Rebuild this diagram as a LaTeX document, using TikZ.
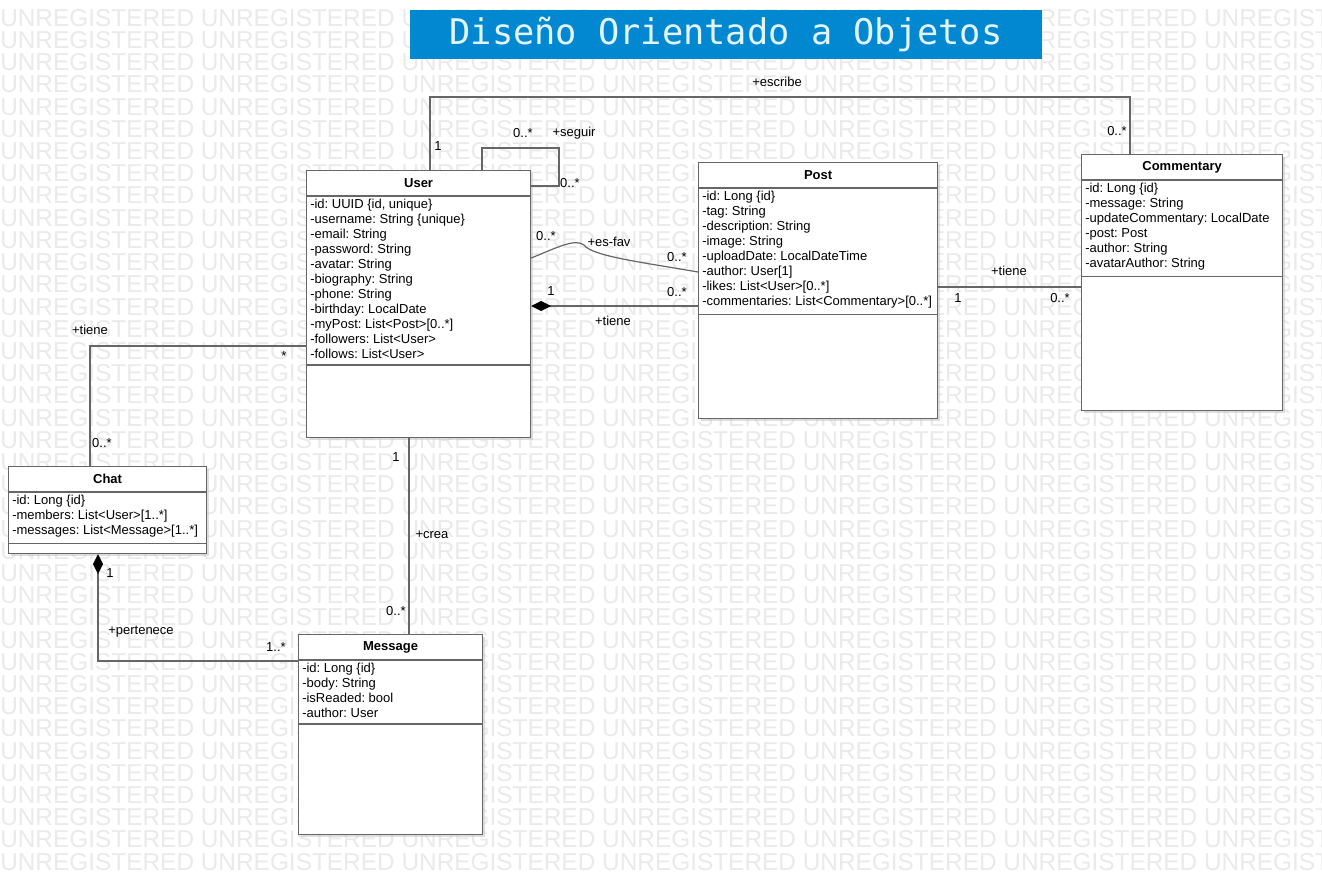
\documentclass[tikz,border=0pt]{standalone}
\usepackage{fontspec}
\setmainfont{Liberation Sans}
\newfontfamily\titlefont{DejaVu Sans Mono}
\usetikzlibrary{arrows.meta,positioning,calc,shadows}
\frenchspacing

\definecolor{titleblue}{RGB}{2,136,209}
\definecolor{titletext}{RGB}{225,245,254}
\definecolor{umlgray}{RGB}{102,102,102}
\definecolor{wmgray}{RGB}{234,234,234}

\tikzset{
    classbox/.style={draw=umlgray,line width=0.9pt,fill=white,anchor=north west,inner sep=0pt,
        drop shadow={shadow xshift=2pt,shadow yshift=-2pt,fill=black!25,opacity=0.5}},
    classname/.style={font=\fontsize{9.75}{11.25}\selectfont\bfseries,inner sep=0pt},
    attrlist/.style={font=\fontsize{9.75}{11.25}\selectfont,align=left,anchor=north west,inner xsep=0pt,inner ysep=1.5pt},
    classline/.style={draw=umlgray,line width=0.9pt},
    assoc/.style={draw=umlgray,line width=0.9pt},
    comp/.style={assoc,{Diamond[length=15pt,width=7.5pt,color=black]}-},
    lbl/.style={font=\fontsize{9.75}{11.25}\selectfont,inner sep=0pt},
    watermark/.style={font=\fontsize{18.3}{20}\selectfont,text=wmgray,anchor=west,inner sep=0pt},
    titlebox/.style={fill=titleblue,text=titletext,inner sep=0pt,font=\titlefont\fontsize{26.5}{30}\selectfont},
}

% class box: name, north west corner, width, height, title, attributes
\newcommand{\umlClass}[6]{
    \node[classbox,minimum width=#3*0.75pt,minimum height=#4*0.75pt] (#1) at (#2) {};
    \node[classname] (#1-name) at ($(#1.north)+(0,13)$) {#5};
    \draw[classline] ($(#1.north west)+(0,26)$) -- ($(#1.north east)+(0,26)$);
    \node[attrlist] (#1-attrs) at ($(#1.north west)+(4,27)$) {#6};
    \draw[classline] ($(#1-attrs.south -| #1.west)+(0,4)$) -- ($(#1-attrs.south -| #1.east)+(0,4)$);
}

\begin{document}
\begin{tikzpicture}[x=0.75pt,y=-0.75pt,line cap=butt,line join=miter]

    \useasboundingbox (0,0) rectangle (1322,874);
    \clip (0,0) rectangle (1322,874);
    \fill[white] (0,0) rectangle (1322,874);

    % --- Watermark ---
    \foreach \r in {0,...,38}
        \node[watermark] (wm-\r) at (0,{18+22.2*\r})
            {UNREGISTERED UNREGISTERED UNREGISTERED UNREGISTERED UNREGISTERED UNREGISTERED UNREGISTERED};

    % --- Title ---
    \node[titlebox,minimum width=632*0.75pt,minimum height=49*0.75pt] (title) at (726,34.5)
        {Diseño Orientado a Objetos};

    % --- Classes ---
    \umlClass{user}{306,170}{224}{267}{User}{-id: UUID \{id, unique\}\\-username: String \{unique\}\\-email: String\\-password: String\\-avatar: String\\-biography: String\\-phone: String\\-birthday: LocalDate\\-myPost: List<Post>[0..*]\\-followers: List<User>\\-follows: List<User>}

    \umlClass{post}{698,162}{239}{256}{Post}{-id: Long \{id\}\\-tag: String\\-description: String\\-image: String\\-uploadDate: LocalDateTime\\-author: User[1]\\-likes: List<User>[0..*]\\-commentaries: List<Commentary>[0..*]}

    \umlClass{comm}{1081,154}{201}{256}{Commentary}{-id: Long \{id\}\\-message: String\\-updateCommentary: LocalDate\\-post: Post\\-author: String\\-avatarAuthor: String}

    \umlClass{chat}{8,466}{198}{87}{Chat}{-id: Long \{id\}\\-members: List<User>[1..*]\\-messages: List<Message>[1..*]}

    \umlClass{msg}{298,634}{184}{200}{Message}{-id: Long \{id\}\\-body: String\\-isReaded: bool\\-author: User}

    % User -> Commentary (+escribe)
    \draw[assoc] ($(user.north west)+(124,0)$) -- ++(0,-73) -| ($(comm.north west)+(49,0)$);
    \node[lbl] (escribe) at (777,82) {+escribe};
    \node[lbl] (escribe-u) at (438,146) {1};
    \node[lbl] (escribe-c) at (1117,131) {0..*};

    % User -> User (+seguir)
    \draw[assoc] ($(user.north west)+(176,0)$) -- ++(0,-22) -- ++(77,0) -- ++(0,38) -- ($(user.north east)+(0,16)$);
    \node[lbl] (seguir-a) at (523,133) {0..*};
    \node[lbl] (seguir) at (574,133) {+seguir};
    \node[lbl] (seguir-b) at (570,183) {0..*};

    % User -- Post (+es-fav)
    \draw[assoc] ($(user.north east)+(0,88)$) .. controls ++(25,-10) and (575,238) .. (584,245)
        .. controls (592,256) and (640,262) .. ($(post.north west)+(0,110)$);
    \node[lbl] (esfav-u) at (546,236) {0..*};
    \node[lbl] (esfav) at (609,242) {+es-fav};
    \node[lbl] (esfav-p) at (677,257) {0..*};

    % User <>- Post (+tiene)
    \draw[comp] ($(user.north east)+(0,136)$) -- ($(post.north west)+(0,144)$);
    \node[lbl] (upt-u) at (551,291) {1};
    \node[lbl] (upt-p) at (677,292) {0..*};
    \node[lbl] (upt) at (613,321) {+tiene};

    % Post -- Commentary (+tiene)
    \draw[assoc] ($(post.north east)+(0,125)$) -- ($(comm.north west)+(0,133)$);
    \node[lbl] (pct) at (1009,271) {+tiene};
    \node[lbl] (pct-p) at (958,298) {1};
    \node[lbl] (pct-c) at (1060,298) {0..*};

    % User -- Chat (+tiene)
    \draw[assoc] ($(user.north west)+(0,176)$) -| ($(chat.north west)+(82,0)$);
    \node[lbl] (uct) at (90,330) {+tiene};
    \node[lbl] (uct-u) at (284,356) {*};
    \node[lbl] (uct-c) at (102,443) {0..*};

    % User -- Message (+crea)
    \draw[assoc] ($(user.south west)+(103,0)$) -- ($(msg.north west)+(111,0)$);
    \node[lbl] (crea-u) at (396,457) {1};
    \node[lbl] (crea) at (432,535) {+crea};
    \node[lbl] (crea-m) at (396,611) {0..*};

    % Chat <>- Message (+pertenece)
    \draw[comp] ($(chat.south west)+(90,0)$) |- ($(msg.north west)+(0,27)$);
    \node[lbl] (pert-c) at (110,573) {1};
    \node[lbl] (pert) at (141,632) {+pertenece};
    \node[lbl] (pert-m) at (276,647) {1..*};

\end{tikzpicture}
\end{document}
